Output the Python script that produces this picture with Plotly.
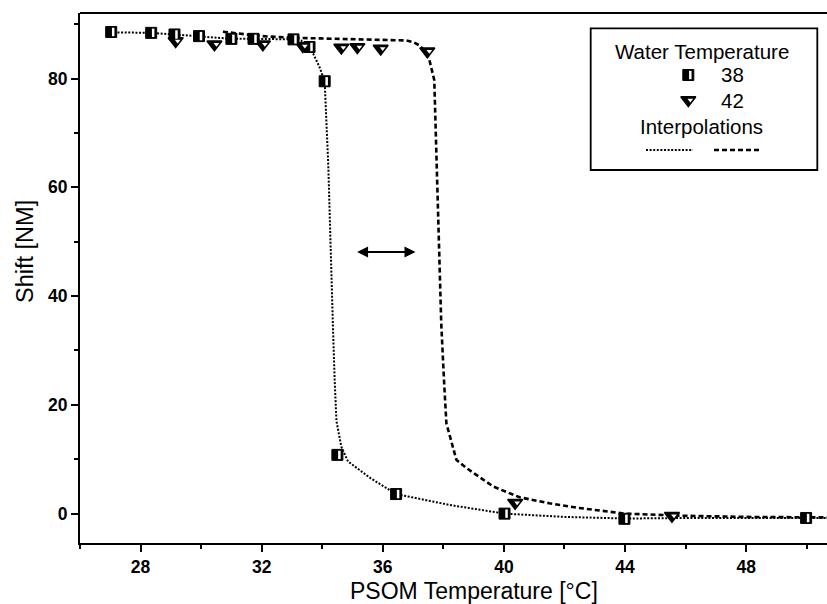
import plotly.graph_objects as go

# ---------------- data ----------------
# measured points, water temperature 38 (half-filled squares)
x38 = [27.03, 28.35, 29.12, 29.93, 31.0, 31.73, 33.05, 33.58, 34.08, 34.5, 36.44, 40.02, 43.98, 49.98]
y38 = [88.56, 88.4, 88.1, 87.8, 87.3, 87.3, 87.2, 85.8, 79.5, 10.8, 3.6, 0.0, -0.95, -0.8]

# measured points, water temperature 42 (down triangles)
x42 = [29.16, 30.44, 32.04, 33.36, 34.63, 35.16, 35.93, 37.47, 40.37, 45.55]
y42 = [86.9, 86.3, 86.3, 86.0, 85.7, 85.8, 85.5, 85.0, 2.0, -0.4]

# interpolation curves
xi38 = [27.0, 28.35, 29.12, 29.93, 31.0, 31.73, 33.05, 33.3, 33.7, 33.91, 34.08, 34.2, 34.27, 34.35,
        34.41, 34.47, 34.63, 34.85, 35.6, 36.44, 38.2, 40.02, 42.0, 44.0, 46.0, 48.0, 50.0, 50.7]
yi38 = [88.5, 88.4, 88.1, 87.8, 87.3, 87.3, 87.2, 87.0, 84.6, 82.1, 79.5, 64.0, 48.0, 35.0,
        24.6, 17.0, 12.3, 9.6, 6.5, 3.6, 1.6, 0.0, -0.6, -0.9, -0.8, -0.8, -0.8, -0.8]

xi42 = [30.72, 31.2, 32.0, 33.0, 34.0, 35.0, 36.0, 36.77, 37.0, 37.21, 37.4, 37.54, 37.7, 37.78,
        37.85, 37.93, 38.02, 38.1, 38.43, 38.76, 39.64, 40.52, 41.5, 42.39, 44.0, 46.0, 48.0, 50.7]
yi42 = [88.6, 88.3, 87.8, 87.5, 87.4, 87.3, 87.2, 87.0, 86.7, 86.1, 85.0, 83.4, 79.7, 65.0,
        48.0, 35.0, 24.6, 16.6, 9.9, 8.4, 5.0, 3.0, 1.9, 1.1, 0.0, -0.4, -0.6, -0.7]

x_ticks = [28, 32, 36, 40, 44, 48]
y_ticks = [0, 20, 40, 60, 80]

legend_title = "Water Temperature"
legend_labels = ["38", "42"]
interp_title = "Interpolations"

arrow_from, arrow_to, arrow_y = 35.1, 37.08, 48.1

# ---------------- layout geometry ----------------
W, H = 827, 604
ML, MR, MT, MB = 80, 0, 13, 61
PW, PH = W - ML - MR, H - MT - MB
XPX = 30.28  # px per x unit
XR = [26.0, 26.0 + PW / XPX]
YR = [-5.4, 92.05]
SHIFT = 2.0 / XPX  # small shift for white part of half-filled square

def fx(px):
    return (px - ML) / PW

def fy(py):
    return (MT + PH - py) / PH

FONT = "Liberation Sans, Arial, sans-serif"
DOT = dict(color="black", width=2, dash="2px,1.6px")
DASH = dict(color="black", width=2.6, dash="5px,3px")
SQ = dict(symbol="square", size=11, color="black", line=dict(color="black", width=1))
SQW = dict(symbol="line-ns", size=6, color="white", line=dict(color="white", width=2.5))
TRI = dict(symbol="triangle-down", size=13, color="black", line=dict(color="black", width=1.5))
TRIW = dict(symbol="triangle-down", size=5, color="white", line=dict(color="white", width=0))

fig = go.Figure()

# interpolation lines
fig.add_trace(go.Scatter(x=xi38, y=yi38, mode="lines", line=DOT,
                         showlegend=False, hoverinfo="skip"))
fig.add_trace(go.Scatter(x=xi42, y=yi42, mode="lines", line=DASH,
                         showlegend=False, hoverinfo="skip"))

# 42 triangles (black with small white core)
fig.add_trace(go.Scatter(x=x42, y=y42, mode="markers", marker=TRI, showlegend=False))
fig.add_trace(go.Scatter(x=x42, y=y42, mode="markers", xaxis="x3", yaxis="y", marker=TRIW,
                         showlegend=False, hoverinfo="skip"))
# 38 squares (black) + white bar on shifted overlay axis
fig.add_trace(go.Scatter(x=x38, y=y38, mode="markers", marker=SQ, showlegend=False))
fig.add_trace(go.Scatter(x=x38, y=y38, mode="markers", xaxis="x3", yaxis="y", marker=SQW,
                         showlegend=False, hoverinfo="skip"))

# legend decorations on an overlay axis spanning the plot area [0,1]
lx_sym = fx(688.3)
def leg(xs, ys, **kw):
    fig.add_trace(go.Scatter(x=xs, y=ys, xaxis="x4", yaxis="y4", showlegend=False,
                             hoverinfo="skip", **kw))

leg([lx_sym], [fy(75)], mode="markers", marker=SQ)
leg([fx(690.3)], [fy(75)], mode="markers", marker=SQW)
leg([lx_sym], [fy(100)], mode="markers", marker=TRI)
leg([fx(690.3)], [fy(100)], mode="markers", marker=TRIW)
leg([fx(646), fx(693)], [fy(150), fy(150)], mode="lines", line=DOT)
leg([fx(714), fx(762)], [fy(150), fy(150)], mode="lines", line=DASH)

LFONT = dict(family=FONT, size=20.5, color="black")
annotations = [
    dict(xref="paper", yref="paper", x=fx(701.7), y=fy(51.7), text=legend_title,
         showarrow=False, font=LFONT, xanchor="center", yanchor="middle"),
    dict(xref="paper", yref="paper", x=fx(719), y=fy(75), text=legend_labels[0],
         showarrow=False, font=LFONT, xanchor="left", yanchor="middle"),
    dict(xref="paper", yref="paper", x=fx(719), y=fy(101), text=legend_labels[1],
         showarrow=False, font=LFONT, xanchor="left", yanchor="middle"),
    dict(xref="paper", yref="paper", x=fx(701.7), y=fy(126.7), text=interp_title,
         showarrow=False, font=LFONT, xanchor="center", yanchor="middle"),
    # axis titles
    dict(xref="paper", yref="paper", x=fx(474), y=fy(591), text="PSOM Temperature [°C]",
         showarrow=False, font=dict(family=FONT, size=23, color="black"),
         xanchor="center", yanchor="middle"),
    dict(xref="paper", yref="paper", x=fx(25), y=fy(252), text="Shift [NM]",
         showarrow=False, font=dict(family=FONT, size=23.5, color="black"),
         xanchor="center", yanchor="middle", textangle=-90),
    # double arrow
    dict(x=arrow_to, y=arrow_y, ax=arrow_from, ay=arrow_y, xref="x", yref="y",
         axref="x", ayref="y", text="", showarrow=True, arrowhead=2, arrowside="end+start",
         arrowsize=1.1, arrowwidth=2, arrowcolor="black"),
]

shapes = [
    # legend box
    dict(type="rect", xref="paper", yref="paper", x0=fx(590.7), x1=fx(817.3),
         y0=fy(170), y1=fy(28.3), line=dict(color="black", width=1.8)),
    # top frame line
    dict(type="line", xref="paper", yref="paper", x0=0, x1=1, y0=1, y1=1,
         line=dict(color="black", width=2.2)),
]

axis_common = dict(showgrid=False, zeroline=False, showline=True, linecolor="black",
                   linewidth=2.2, ticks="outside", ticklen=7, tickwidth=2, tickcolor="black",
                   tickfont=dict(family=FONT, size=17.5, color="black"))

fig.update_layout(
    width=W, height=H,
    margin=dict(l=ML, r=MR, t=MT, b=MB),
    paper_bgcolor="white", plot_bgcolor="white",
    showlegend=False,
    xaxis=dict(range=XR, tickvals=x_ticks, ticktext=["<b>%d</b>" % v for v in x_ticks],
               minor=dict(dtick=2, tick0=26, ticks="outside", ticklen=4, tickwidth=2,
                          tickcolor="black"),
               **axis_common),
    yaxis=dict(range=YR, tickvals=y_ticks, ticktext=["<b>%d</b>" % v for v in y_ticks],
               minor=dict(dtick=10, tick0=0, ticks="outside", ticklen=4, tickwidth=2,
                          tickcolor="black"),
               **axis_common),
    xaxis3=dict(overlaying="x", range=[XR[0] - SHIFT, XR[1] - SHIFT], visible=False,
                fixedrange=True),
    xaxis4=dict(overlaying="x", range=[0, 1], visible=False, fixedrange=True),
    yaxis4=dict(overlaying="y", range=[0, 1], visible=False, fixedrange=True),
    annotations=annotations,
    shapes=shapes,
)

fig.write_html("out.html")
